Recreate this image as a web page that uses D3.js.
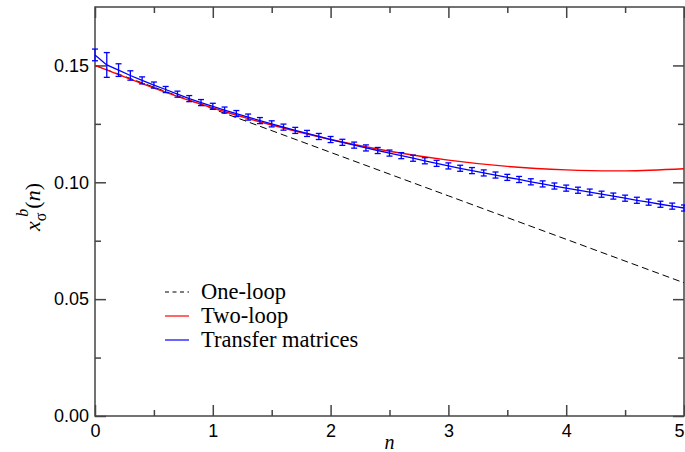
<!DOCTYPE html>
<html><head><meta charset="utf-8">
<script src="https://cdn.jsdelivr.net/npm/d3@7/dist/d3.min.js"></script>
<style>body{margin:0;background:#fff}svg{display:block}</style>
</head><body>
<svg id="chart" width="685" height="452"></svg>
<script>
// ---- data ----
const xTicks = [0, 1, 2, 3, 4, 5];
const xMinorTicks = [0.5, 1.5, 2.5, 3.5, 4.5];
const yTicks = [0.00, 0.05, 0.10, 0.15];
const yMinorTicks = [0.025, 0.075, 0.125];
const legendLabels = ["One-loop", "Two-loop", "Transfer matrices"];

const oneLoopN = [0, 1, 2, 3, 4, 5];
const oneLoopV = [0.1500, 0.1314, 0.1128, 0.0942, 0.0756, 0.0570];

const twoLoopN = [0, 0.5, 1, 1.5, 2, 2.5, 3, 3.5, 4, 4.5, 5];
const twoLoopV = [0.1500, 0.1403, 0.1318, 0.1245, 0.1183, 0.1133, 0.1095, 0.1068, 0.1053, 0.1049, 0.1058];

const tmN = [0,0.1,0.2,0.3,0.4,0.5,0.6,0.7,0.8,0.9,1.0,1.1,1.2,1.3,1.4,1.5,1.6,1.7,1.8,1.9,2.0,
             2.1,2.2,2.3,2.4,2.5,2.6,2.7,2.8,2.9,3.0,3.1,3.2,3.3,3.4,3.5,3.6,3.7,3.8,3.9,4.0,
             4.1,4.2,4.3,4.4,4.5,4.6,4.7,4.8,4.9,5.0];
const tmV = [0.1545,0.1502,0.1480,0.1457,0.1436,0.1416,0.1397,0.1377,0.1358,0.1341,0.1325,
             0.1309,0.1294,0.1279,0.1264,0.1250,0.1236,0.1222,0.1209,0.1196,0.1183,
             0.1171,0.1159,0.1147,0.1136,0.1125,0.1114,0.1103,0.1092,0.1081,0.1070,
             0.1060,0.1050,0.1040,0.1031,0.1021,0.1012,0.1002,0.0993,0.0984,0.0975,
             0.0966,0.0958,0.0949,0.0941,0.0932,0.0923,0.0915,0.0906,0.0898,0.0890];
const tmErr = [0.0025,0.0053,0.0027,0.0020,0.0015,0.0013,0.0013,0.0013,0.0013,0.0013,0.0013,
               0.0013,0.0013,0.0013,0.0013,0.0013,0.0013,0.0013,0.0013,0.0013,0.0013,
               0.0013,0.0013,0.0013,0.0013,0.0013,0.0013,0.0013,0.0013,0.0013,0.0013,
               0.0013,0.0013,0.0013,0.0013,0.0013,0.0013,0.0013,0.0013,0.0013,0.0013,
               0.0013,0.0013,0.0013,0.0013,0.0013,0.0013,0.0013,0.0013,0.0013,0.0013];

// ---- layout ----
const L = 95, R = 684, T = 7, B = 416;
const svg = d3.select("#chart");
const x = d3.scaleLinear().domain([0, 5]).range([L, R]);
const y = d3.scaleLinear().domain([0, 0.175]).range([B, T]);

const axisCol = "#444";
function styleAxis(g) {
  g.select(".domain").remove();
  g.selectAll(".tick line").attr("stroke", axisCol).attr("stroke-width", 1.5);
  g.selectAll(".tick text").attr("fill", "#000")
    .style("font-family", "'Liberation Sans', Arial, sans-serif").style("font-size", "18px");
}

// major + minor ticks on all sides (inward)
const xb = svg.append("g").attr("transform", `translate(0,${B})`)
  .call(d3.axisBottom(x).tickValues(xTicks).tickSize(-11).tickPadding(8).tickFormat(d3.format("d")))
  .call(styleAxis);
// keep the last label inside the window
xb.selectAll(".tick text").filter(d => d === 5).attr("x", -5);
svg.append("g").attr("transform", `translate(0,${B})`)
  .call(d3.axisBottom(x).tickValues(xMinorTicks).tickSize(-6).tickFormat(""))
  .call(styleAxis);
svg.append("g").attr("transform", `translate(0,${T})`)
  .call(d3.axisTop(x).tickValues(xTicks).tickSize(-11).tickFormat(""))
  .call(styleAxis);
svg.append("g").attr("transform", `translate(0,${T})`)
  .call(d3.axisTop(x).tickValues(xMinorTicks).tickSize(-6).tickFormat(""))
  .call(styleAxis);
svg.append("g").attr("transform", `translate(${L},0)`)
  .call(d3.axisLeft(y).tickValues(yTicks).tickSize(-11).tickPadding(6).tickFormat(d3.format(".2f")))
  .call(styleAxis);
svg.append("g").attr("transform", `translate(${L},0)`)
  .call(d3.axisLeft(y).tickValues(yMinorTicks).tickSize(-6).tickFormat(""))
  .call(styleAxis);
svg.append("g").attr("transform", `translate(${R},0)`)
  .call(d3.axisRight(y).tickValues(yTicks).tickSize(-11).tickFormat(""))
  .call(styleAxis);
svg.append("g").attr("transform", `translate(${R},0)`)
  .call(d3.axisRight(y).tickValues(yMinorTicks).tickSize(-6).tickFormat(""))
  .call(styleAxis);

// frame
svg.append("rect").attr("x", L).attr("y", T).attr("width", R - L).attr("height", B - T)
  .attr("fill", "none").attr("stroke", axisCol).attr("stroke-width", 1.5);

// ---- curves ----
const lineGen = d3.line().x(d => x(d[0])).y(d => y(d[1]));
svg.append("path").datum(oneLoopN.map((n, i) => [n, oneLoopV[i]]))
  .attr("d", lineGen).attr("fill", "none").attr("stroke", "#000")
  .attr("stroke-width", 1).attr("stroke-dasharray", "7,4");
svg.append("path").datum(twoLoopN.map((n, i) => [n, twoLoopV[i]]))
  .attr("d", lineGen.curve(d3.curveNatural)).attr("fill", "none").attr("stroke", "#ff0000")
  .attr("stroke-width", 1.4);
lineGen.curve(d3.curveLinear);
const tm = tmN.map((n, i) => [n, tmV[i], tmErr[i]]);
svg.append("path").datum(tm).attr("d", lineGen).attr("fill", "none")
  .attr("stroke", "#0000ff").attr("stroke-width", 1.3);
const eb = svg.append("g").attr("stroke", "#0000ff").attr("stroke-width", 1.3);
const capW = 3;
eb.selectAll("line.v").data(tm).join("line").attr("class", "v")
  .attr("x1", d => x(d[0])).attr("x2", d => x(d[0]))
  .attr("y1", d => y(d[1] - d[2])).attr("y2", d => y(d[1] + d[2]));
eb.selectAll("line.t").data(tm).join("line").attr("class", "t")
  .attr("x1", d => x(d[0]) - capW).attr("x2", d => x(d[0]) + capW)
  .attr("y1", d => y(d[1] + d[2])).attr("y2", d => y(d[1] + d[2]));
eb.selectAll("line.b").data(tm).join("line").attr("class", "b")
  .attr("x1", d => x(d[0]) - capW).attr("x2", d => x(d[0]) + capW)
  .attr("y1", d => y(d[1] - d[2])).attr("y2", d => y(d[1] - d[2]));

// ---- legend ----
const legStyles = [
  {stroke: "#000", dash: "4,3.5"},
  {stroke: "#ff0000", dash: null},
  {stroke: "#0000ff", dash: null}
];
const leg = svg.append("g");
legendLabels.forEach((lab, i) => {
  const yy = 292 + i * 24;
  leg.append("line").attr("x1", 165).attr("x2", 189).attr("y1", yy).attr("y2", yy)
    .attr("stroke", legStyles[i].stroke).attr("stroke-width", 1.2)
    .attr("stroke-dasharray", legStyles[i].dash);
  leg.append("text").attr("x", 201).attr("y", yy).attr("dy", "0.33em")
    .style("font-family", "'Liberation Serif', 'Times New Roman', serif")
    .style("font-size", "22.5px").text(lab);
});

// ---- axis titles ----
svg.append("text").attr("x", (L + R) / 2).attr("y", 449).attr("text-anchor", "middle")
  .style("font-family", "'Liberation Serif', 'Times New Roman', serif")
  .style("font-style", "italic").style("font-size", "20px").text("n");

const yl = svg.append("text").attr("transform", "translate(40,207) rotate(-90)")
  .attr("text-anchor", "middle")
  .style("font-family", "'Liberation Serif', 'Times New Roman', serif")
  .style("font-size", "22px");
yl.append("tspan").style("font-style", "italic").text("x");
yl.append("tspan").attr("dy", 6).style("font-size", "16px").text("σ");
yl.append("tspan").attr("dx", -4).attr("dy", -18).style("font-style", "italic").style("font-size", "16px").text("b");
yl.append("tspan").attr("dy", 12).text("(");
yl.append("tspan").style("font-style", "italic").text("n");
yl.append("tspan").text(")");
</script>
</body></html>
